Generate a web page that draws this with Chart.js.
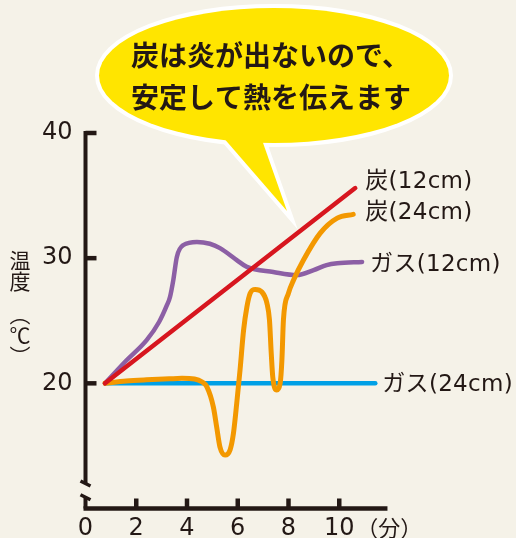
<!DOCTYPE html>
<html lang="ja">
<head>
<meta charset="utf-8">
<script src="https://cdn.jsdelivr.net/npm/chart.js@4/dist/chart.umd.min.js"></script>
<style>
  html, body { margin: 0; padding: 0; background: #f5f2e8; }
  #wrap { position: relative; width: 516px; height: 538px; }
  #chart { position: absolute; left: 0; top: 0; }
  .ytitle {
    position: absolute;
    left: 9px;
    width: 22px;
    writing-mode: vertical-rl;
    font-family: "Noto Sans CJK JP", sans-serif;
    font-size: 21px;
    line-height: 22px;
    color: #231815;
  }
</style>
</head>
<body>
<div id="wrap">
  <canvas id="chart" width="516" height="538"></canvas>
  <div class="ytitle" id="ytitleA" style="top:250px"></div>
  <div class="ytitle" id="ytitleB" style="top:304px"></div>
</div>
<script>
// axis ticks
const xTicks = [0, 2, 4, 6, 8, 10];
const yTicks = [20, 30, 40];
const xUnit = "（分）";
const yTitle = ["温度", "（℃）"];
const bubbleLines = ["炭は炎が出ないので、", "安定して熱を伝えます"];

// series (minutes, °C)
const names = ["炭(12cm)", "炭(24cm)", "ガス(12cm)", "ガス(24cm)"];
const sumi12X = [0.77, 10.63];
const sumi12Y = [20, 35.6];
const sumi24X = [0.77, 1.6, 2.4, 3.3, 3.8, 4.3, 4.6, 4.78, 5.04, 5.17, 5.3, 5.5, 5.7, 5.83, 5.96, 6.09, 6.23, 6.36, 6.49, 6.69, 6.95, 7.15, 7.25, 7.32, 7.38, 7.54, 7.67, 7.74, 7.8, 8.0, 8.2, 8.59, 9.25, 9.92, 10.55];
const sumi24Y = [20.0, 20.18, 20.28, 20.36, 20.4, 20.35, 20.1, 19.73, 18.1, 16.5, 14.9, 14.27, 14.7, 16.0, 18.4, 21.06, 24.25, 26.1, 27.2, 27.5, 27.3, 26.4, 25.06, 22.4, 20.5, 19.47, 20.0, 21.86, 25.06, 27.2, 28.25, 29.85, 32.0, 33.2, 33.5];
const gas12X = [0.77, 1.6, 2.41, 2.9, 3.2, 3.33, 3.46, 3.6, 3.86, 4.39, 4.9, 5.3, 5.96, 6.36, 7.4, 8.33, 8.99, 9.5, 9.92, 10.9];
const gas12Y = [20.0, 21.8, 23.45, 24.9, 26.2, 26.9, 28.25, 30.1, 31.05, 31.3, 31.15, 30.8, 29.85, 29.3, 28.9, 28.65, 29.05, 29.45, 29.6, 29.7];
const gas24X = [0.77, 11.42];
const gas24Y = [20, 20];

const colors = ["#d7161f", "#f39800", "#8c5fa5", "#00a0e6"];
const INK = "#231815";
const BREAK_TOP = 12.0;
const BREAK_BOTTOM = 10.9;
const THIN = '"DejaVu Sans", "Noto Sans CJK JP", sans-serif';

document.getElementById("ytitleA").textContent = yTitle[0];
document.getElementById("ytitleB").textContent = yTitle[1];

function toPoints(xs, ys) {
  return xs.map((x, i) => ({ x: x, y: ys[i] }));
}

const datasets = [
  { label: names[0], data: toPoints(sumi12X, sumi12Y), borderColor: colors[0], borderWidth: 4.5, tension: 0 },
  { label: names[1], data: toPoints(sumi24X, sumi24Y), borderColor: colors[1], borderWidth: 5, cubicInterpolationMode: "monotone" },
  { label: names[2], data: toPoints(gas12X, gas12Y), borderColor: colors[2], borderWidth: 4.5, cubicInterpolationMode: "monotone" },
  { label: names[3], data: toPoints(gas24X, gas24Y), borderColor: colors[3], borderWidth: 4.5, tension: 0 }
];

// where each series name sits relative to the end of its line
const labelOffsets = [[10, -6], [12, -1], [8, 3], [7, 2]];

function drawBubble(ctx) {
  const cx = 274, cy = 75.5, rx = 175, ry = 67.5;
  const tail = [[222, 136], [287, 211], [262, 140]];
  ctx.save();
  const ellipse = () => { ctx.beginPath(); ctx.ellipse(cx, cy, rx, ry, 0, 0, Math.PI * 2); };
  const tri = () => {
    ctx.beginPath();
    ctx.moveTo(tail[0][0], tail[0][1]);
    ctx.lineTo(tail[1][0], tail[1][1]);
    ctx.lineTo(tail[2][0], tail[2][1]);
    ctx.closePath();
  };
  ctx.strokeStyle = "#ffffff";
  ctx.lineWidth = 8;
  ctx.lineJoin = "miter";
  ctx.miterLimit = 10;
  ellipse(); ctx.stroke();
  tri(); ctx.stroke();
  ctx.fillStyle = "#ffe500";
  ellipse(); ctx.fill();
  tri(); ctx.fill();

  ctx.fillStyle = INK;
  ctx.font = 'bold 28px "Noto Sans CJK JP"';
  ctx.textAlign = "left";
  ctx.textBaseline = "middle";
  ctx.fillText(bubbleLines[0], 131, 55);
  ctx.fillText(bubbleLines[1], 131, 97);
  ctx.restore();
}

const decorPlugin = {
  id: "decor",
  beforeDatasetsDraw(chart) {
    const ctx = chart.ctx;
    const xs = chart.scales.x, ys = chart.scales.y;
    const x0 = xs.getPixelForValue(0);
    const yBase = ys.getPixelForValue(10);
    ctx.save();
    ctx.strokeStyle = INK;
    ctx.lineCap = "butt";

    // y axis with a break near the bottom
    ctx.lineWidth = 4;
    ctx.beginPath();
    ctx.moveTo(x0, ys.getPixelForValue(40) - 2);
    ctx.lineTo(x0, ys.getPixelForValue(BREAK_TOP));
    ctx.moveTo(x0, ys.getPixelForValue(BREAK_BOTTOM));
    ctx.lineTo(x0, yBase);
    ctx.stroke();
    ctx.lineWidth = 3.5;
    [BREAK_TOP, BREAK_BOTTOM].forEach(v => {
      const yy = ys.getPixelForValue(v);
      ctx.beginPath();
      ctx.moveTo(x0 - 5, yy - 2.5);
      ctx.lineTo(x0 + 5, yy + 2.5);
      ctx.stroke();
    });

    // x axis
    ctx.lineWidth = 4.5;
    ctx.beginPath();
    ctx.moveTo(x0 - 2, yBase);
    ctx.lineTo(xs.getPixelForValue(11.9), yBase);
    ctx.stroke();

    // inward ticks
    yTicks.forEach(v => {
      const yy = ys.getPixelForValue(v);
      ctx.beginPath();
      ctx.moveTo(x0, yy);
      ctx.lineTo(x0 + 11, yy);
      ctx.stroke();
    });
    xTicks.filter(v => v > 0).forEach(v => {
      const xx = xs.getPixelForValue(v);
      ctx.beginPath();
      ctx.moveTo(xx, yBase);
      ctx.lineTo(xx, yBase - 10);
      ctx.stroke();
    });
    ctx.restore();
  },
  afterDatasetsDraw(chart) {
    const ctx = chart.ctx;
    const xs = chart.scales.x, ys = chart.scales.y;
    ctx.save();
    ctx.fillStyle = INK;
    ctx.textBaseline = "middle";
    ctx.textAlign = "left";
    ctx.font = "23px " + THIN;
    ctx.letterSpacing = "0.3px";
    chart.data.datasets.forEach((ds, i) => {
      const pts = chart.getDatasetMeta(i).data;
      const last = pts[pts.length - 1];
      ctx.fillText(ds.label, last.x + labelOffsets[i][0], last.y + labelOffsets[i][1]);
    });
    ctx.letterSpacing = "0px";

    // x unit
    ctx.font = '22px "Noto Sans CJK JP"';
    ctx.fillText(xUnit, xs.getPixelForValue(10) + 17, ys.getPixelForValue(10) + 19);

    drawBubble(ctx);
    ctx.restore();
  }
};

const tickFont = { family: "DejaVu Sans", size: 24, weight: 400 };

new Chart(document.getElementById("chart"), {
  type: "line",
  data: { datasets: datasets },
  options: {
    responsive: false,
    animation: false,
    layout: { padding: { left: 0, right: 126, top: 133, bottom: 0 } },
    plugins: { legend: { display: false }, tooltip: { enabled: false } },
    elements: {
      point: { radius: 0 },
      line: { borderCapStyle: "round", borderJoinStyle: "round", fill: false }
    },
    scales: {
      x: {
        type: "linear",
        min: 0,
        max: 12,
        afterFit: s => { s.height = 29.5; },
        afterBuildTicks: s => { s.ticks = xTicks.map(v => ({ value: v })); },
        grid: { display: false, drawTicks: false },
        border: { display: false },
        ticks: { color: INK, font: tickFont, padding: 6, maxRotation: 0, autoSkip: false }
      },
      y: {
        min: 10,
        max: 40,
        afterFit: s => { s.width = 85.5; },
        afterBuildTicks: s => { s.ticks = yTicks.map(v => ({ value: v })); },
        grid: { display: false, drawTicks: false },
        border: { display: false },
        ticks: { color: INK, font: tickFont, padding: 13, autoSkip: false }
      }
    }
  },
  plugins: [decorPlugin]
});
</script>
</body>
</html>
